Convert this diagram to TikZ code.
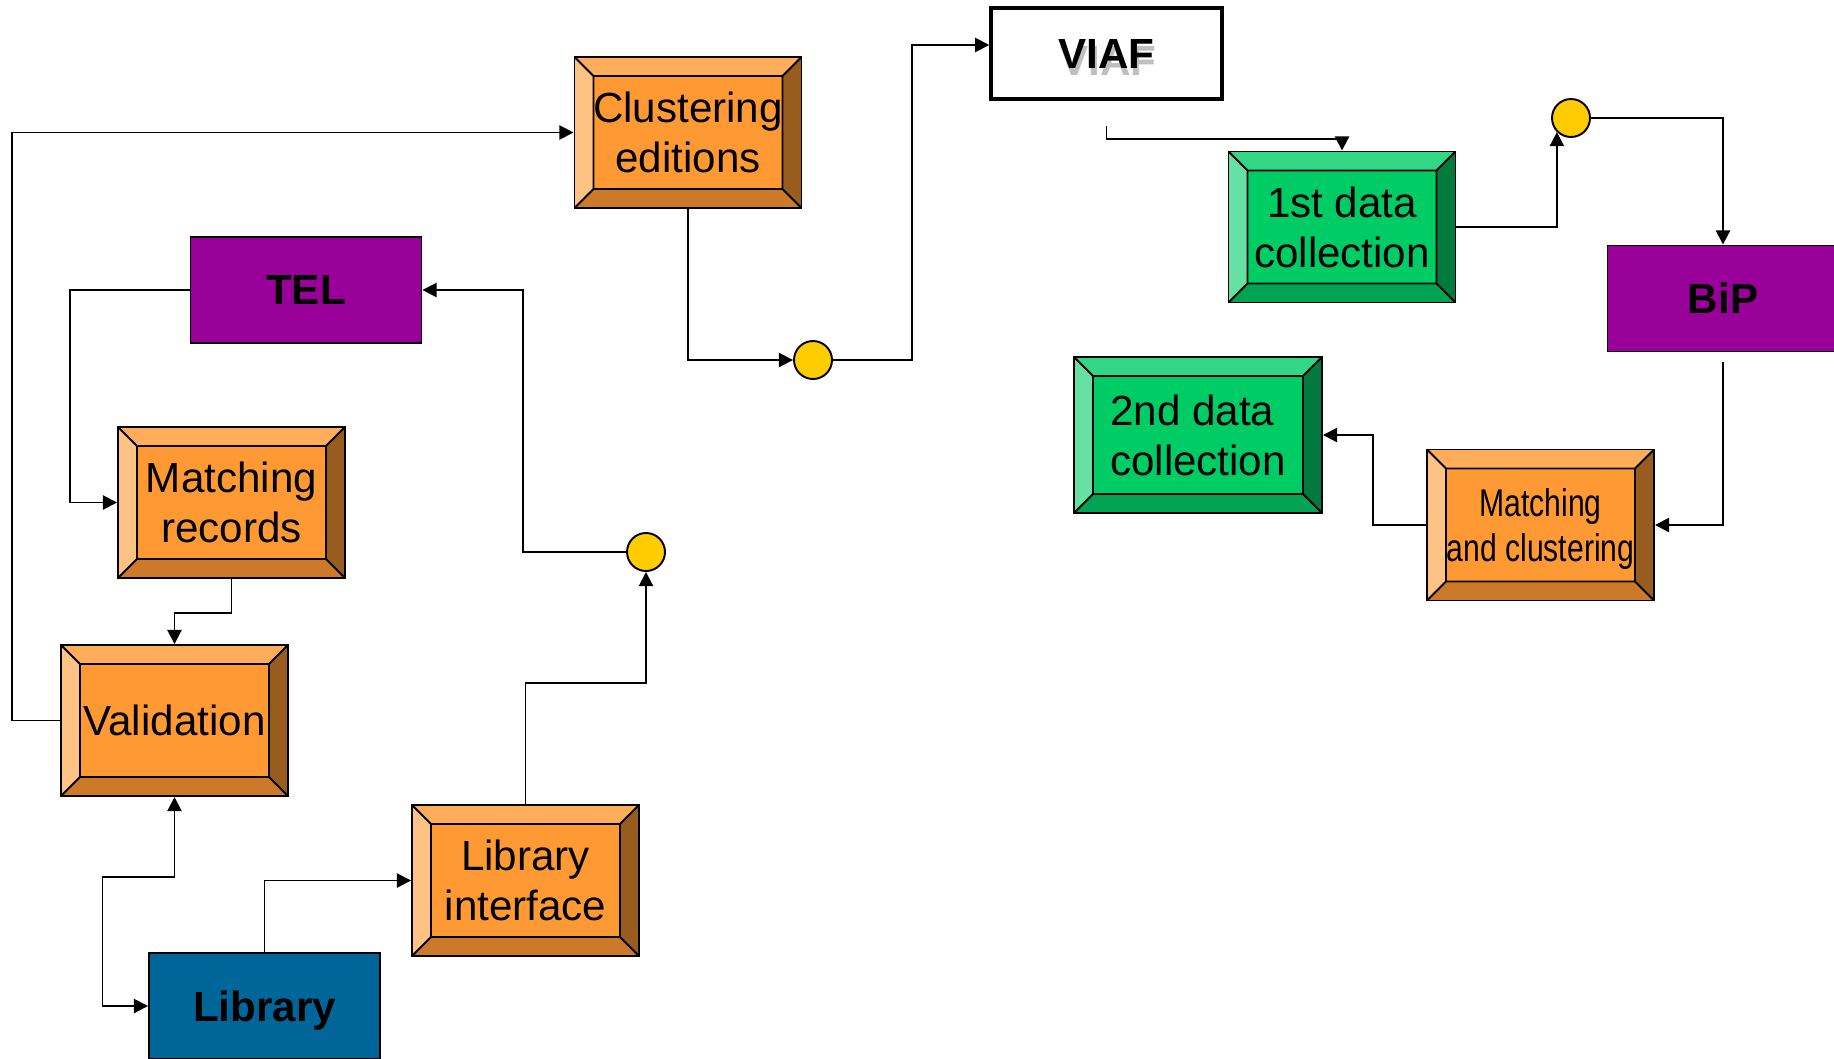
\documentclass[tikz,border=0pt]{standalone}
\usepackage{fontspec}
\setmainfont{Liberation Sans}
\newfontfamily\narrowfont[FakeStretch=0.78]{Liberation Sans}
\usetikzlibrary{arrows.meta}

\definecolor{orface}{HTML}{FF9933}
\definecolor{ortop}{HTML}{FFAD5B}
\definecolor{orleft}{HTML}{FFC285}
\definecolor{orbot}{HTML}{CC7A29}
\definecolor{orright}{HTML}{995C1F}
\definecolor{grface}{HTML}{00CC66}
\definecolor{grtop}{HTML}{33D685}
\definecolor{grleft}{HTML}{66E0A3}
\definecolor{grbot}{HTML}{00A352}
\definecolor{grright}{HTML}{007A3D}
\definecolor{tpurple}{HTML}{990099}
\definecolor{libblue}{HTML}{006699}
\definecolor{dotyellow}{HTML}{FFCC00}

\def\pxu{0.02cm}
\def\bw{19*\pxu}

\tikzset{
  >={Triangle[length=8pt,width=8pt]},
  bevel/.style n args={5}{draw, line width=1.1pt, fill=#1,
    minimum width=227*\pxu, minimum height=151*\pxu, inner sep=0pt,
    align=center, font=\fontsize{24}{28.5}\selectfont,
    path picture={
      \coordinate (bvA) at (path picture bounding box.north west);
      \coordinate (bvB) at (path picture bounding box.north east);
      \coordinate (bvC) at (path picture bounding box.south east);
      \coordinate (bvD) at (path picture bounding box.south west);
      \coordinate (bva) at ([shift={(\bw,-\bw)}]bvA);
      \coordinate (bvb) at ([shift={(-\bw,-\bw)}]bvB);
      \coordinate (bvc) at ([shift={(-\bw,\bw)}]bvC);
      \coordinate (bvd) at ([shift={(\bw,\bw)}]bvD);
      \fill[#2] (bvA) -- (bvB) -- (bvb) -- (bva) -- cycle;
      \fill[#3] (bvA) -- (bva) -- (bvd) -- (bvD) -- cycle;
      \fill[#4] (bvD) -- (bvd) -- (bvc) -- (bvC) -- cycle;
      \fill[#5] (bvB) -- (bvC) -- (bvc) -- (bvb) -- cycle;
      \draw[line width=1.1pt] (bva) rectangle (bvc)
        (bvA) -- (bva) (bvB) -- (bvb) (bvC) -- (bvc) (bvD) -- (bvd);
    }},
  orangebox/.style={bevel={orface}{ortop}{orleft}{orbot}{orright}},
  greenbox/.style={bevel={grface}{grtop}{grleft}{grbot}{grright}},
  flatbox/.style={draw, line width=1.1pt, fill=#1, text depth=0pt,
    minimum width=231*\pxu, minimum height=106*\pxu,
    font=\bfseries\fontsize{24}{28.5}\selectfont},
  viafbox/.style={draw, line width=2pt, fill=white, text depth=0pt,
    minimum width=231*\pxu, minimum height=91*\pxu,
    font=\bfseries\fontsize{24}{28.5}\selectfont},
  joint/.style={circle, draw, line width=1.1pt, fill=dotyellow,
    minimum size=38*\pxu, inner sep=0pt},
  conn/.style={line width=1.1pt, ->},
}

\begin{document}
\begin{tikzpicture}[x=\pxu, y=-\pxu]
\useasboundingbox (0,0) rectangle (1834,1058);
\clip (0,0) rectangle (1834,1058);

% left part
\node[orangebox] (clust) at (688,132.5) {Clustering\\editions};
\node[flatbox=tpurple] (tel) at (306,290) {TEL};
\node[orangebox] (match) at (231.5,502.5) {Matching\\records};
\node[orangebox] (valid) at (174.5,720.5) {Validation};
\node[orangebox] (libif) at (525.5,880.5) {Library\\interface};
\node[flatbox=libblue] (lib) at (264.5,1006) {Library};
\node[joint] (j1) at (813,360) {};
\node[joint] (j2) at (646,552) {};

% right part
\node[viafbox] (viaf) at (1106.5,53.5)
  {\rlap{\kern1pt\raisebox{-4pt}{\color{black!25}VIAF}}VIAF};
\node[greenbox] (first) at (1342,227) {1st data\\collection};
\node[joint] (j3) at (1571,118) {};
\node[flatbox=tpurple] (bip) at (1723,298.5) {BiP};
\node[greenbox, align=left, minimum width=248*\pxu, minimum height=156*\pxu] (second) at (1198,435) {2nd data\\collection};
\node[orangebox, text depth=0pt, font=\narrowfont\fontsize{22}{26}\selectfont] (mc) at (1540.5,525) {Matching\\and clustering};

% flows
\draw[conn] (valid.west) -- ++(-48,0) |- (clust.west);
\draw[conn] (clust.south) |- (j1.west);
\draw[conn] (j1.east) -- ++(79,0) |- ([yshift=0.17cm]viaf.west);
\draw[conn] ([yshift=-0.5cm]viaf.south) -- ++(0,13) -| (first.north);
\draw[conn] (first.east) -| (j3.south west);
\draw[conn] (j3.east) -| (bip.north);
\draw[conn] ([yshift=-0.2cm]bip.south) |- (mc.east);
\draw[conn] (mc.west) -- ++(-53,0) |- (second.east);

\draw[conn] (libif.north) -- ++(0,-121) -| (j2.south);
\draw[conn] (j2.west) -- ++(-103,0) |- (tel.east);
\draw[conn] (tel.west) -- ++(-120,0) |- (match.west);
\draw[conn] (match.south) -- ++(0,34) -| (valid.north);
\draw[conn] (lib.north) |- (libif.west);
\draw[conn, <->] (valid.south) -- ++(0,80) -- ++(-72,0) |- (lib.west);

\end{tikzpicture}
\end{document}
